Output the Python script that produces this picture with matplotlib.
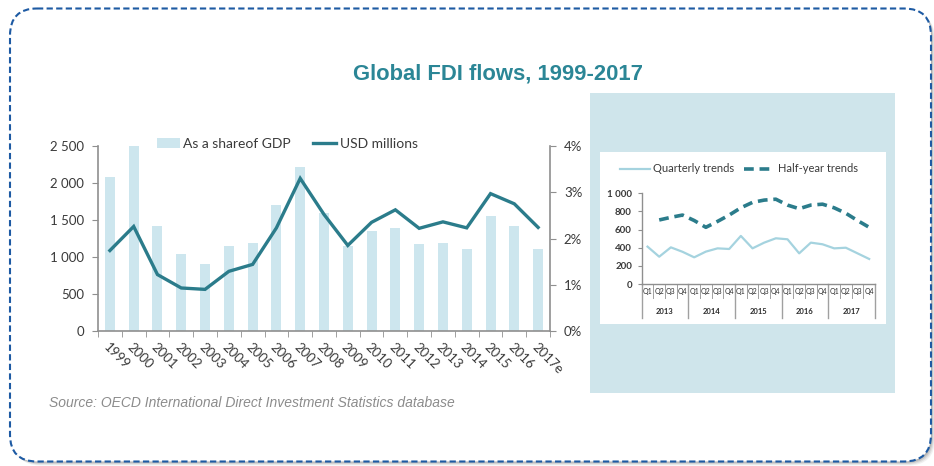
import matplotlib.pyplot as plt
from matplotlib.patches import FancyBboxPatch, Rectangle, Patch
from matplotlib.lines import Line2D
import matplotlib.transforms as mtransforms

# main chart: global FDI, 1999-2017
years = ['1999', '2000', '2001', '2002', '2003', '2004', '2005', '2006', '2007',
         '2008', '2009', '2010', '2011', '2012', '2013', '2014', '2015', '2016', '2017e']
share_gdp = [2080, 2500, 1420, 1045, 900, 1150, 1190, 1700, 2220, 1595,
             1150, 1355, 1390, 1170, 1195, 1105, 1555, 1415, 1110]
usd_millions = [1.74, 2.26, 1.22, 0.93, 0.90, 1.29, 1.44, 2.23, 3.30, 2.52,
                1.85, 2.35, 2.62, 2.22, 2.36, 2.23, 2.97, 2.75, 2.24]
left_ticks = [0, 500, 1000, 1500, 2000, 2500]
left_labels = ['0', '500', '1 000', '1 500', '2 000', '2 500']
right_ticks = [0, 1, 2, 3, 4]
right_labels = ['0%', '1%', '2%', '3%', '4%']

# inset: quarterly vs half-year trends, 2013-2017
quarters = ['Q1', 'Q2', 'Q3', 'Q4']
inset_years = ['2013', '2014', '2015', '2016', '2017']
quarterly = [412, 301, 404, 355, 294, 357, 393, 386, 530, 393,
             456, 504, 493, 338, 456, 438, 393, 400, 338, 276]
half_year = [None, 706, 735, 760, 700, 625, 690, 760, 840, 900,
             925, 935, 870, 830, 870, 880, 840, 780, 700, 625]
inset_ticks = [0, 200, 400, 600, 800, 1000]
inset_labels = ['0', '200', '400', '600', '800', '1 000']

bar_color = '#cde6ee'
line_color = '#2b7c8b'
axis_color = '#8f8f8f'
text_color = '#3a3a3a'
panel_color = '#cfe5eb'

W, H = 934, 466
fig = plt.figure(figsize=(W / 100, H / 100), dpi=100)
fig.patch.set_facecolor('white')


def fbox(x0, y0, x1, y1):
    # figure-fraction rectangle from pixel edges (y measured from the top)
    return [x0 / W, (H - y1) / H, (x1 - x0) / W, (y1 - y0) / H]


# background layer: card with dashed rounded border, inset panel
bg = fig.add_axes([0, 0, 1, 1])
bg.set_xlim(0, W)
bg.set_ylim(H, 0)
bg.axis('off')
bg.set_zorder(-5)

bx0, by0, bx1, by1, rad = 10, 8.5, 931, 461.5, 27
for off, alpha in [(4, 0.10), (3, 0.15), (2, 0.22), (1, 0.30)]:
    bg.add_patch(FancyBboxPatch((bx0 + off, by0 + off), bx1 - bx0, by1 - by0,
                                boxstyle=f'round,pad=0,rounding_size={rad}',
                                fc='#7a7a7a', ec='none', alpha=alpha))
bg.add_patch(FancyBboxPatch((bx0, by0), bx1 - bx0, by1 - by0,
                            boxstyle=f'round,pad=0,rounding_size={rad}',
                            fc='white', ec='none'))
bg.add_patch(FancyBboxPatch((bx0, by0), bx1 - bx0, by1 - by0,
                            boxstyle=f'round,pad=0,rounding_size={rad}',
                            fc='none', ec='#1d5aa3', lw=1.5,
                            linestyle=(0, (3, 1.6))))

bg.add_patch(Rectangle((590, 93), 305, 300, fc=panel_color, ec='none'))
bg.add_patch(Rectangle((600, 152), 286, 172, fc='white', ec='none'))

fig.text(498 / W, (H - 74) / H, 'Global FDI flows, 1999-2017', ha='center', va='center',
         fontsize=15.8, fontweight='bold', color='#2b8696', family='Liberation Sans')
fig.text(49 / W, (H - 403) / H, 'Source: OECD International Direct Investment Statistics database',
         ha='left', va='center', fontsize=10, style='italic', color='#8c8c8c',
         family='Liberation Sans')

# ---- main chart ----
ax = fig.add_axes(fbox(98, 146, 550, 331))
ax.patch.set_alpha(0)
x = list(range(len(years)))
ax.bar(x, share_gdp, width=0.42, color=bar_color, zorder=1)
ax.set_xlim(-0.5, len(years) - 0.5)
ax.set_ylim(0, 2500)
ax.set_yticks(left_ticks)
ax.set_yticklabels(left_labels)
ax.set_xticks(x)
ax.set_xticklabels(years, rotation=-45, ha='left', va='top', rotation_mode='anchor')
ax.set_xticks([i - 0.5 for i in range(len(years) + 1)], minor=True)
ax.tick_params(axis='x', which='major', length=0, pad=7)
ax.tick_params(axis='x', which='minor', length=4, color=axis_color, direction='out')
ax.tick_params(axis='y', length=4, color=axis_color, pad=6)
for lbl in ax.get_xticklabels() + ax.get_yticklabels():
    lbl.set_fontsize(9.5)
    lbl.set_color(text_color)
    lbl.set_family('Lato')
for s in ['top', 'right']:
    ax.spines[s].set_visible(False)
for s in ['left', 'bottom']:
    ax.spines[s].set_color(axis_color)
    ax.spines[s].set_linewidth(1.2)

ax2 = ax.twinx()
ax2.plot(x, usd_millions, color=line_color, lw=2.4, solid_joinstyle='miter', zorder=3)
ax2.set_ylim(0, 4)
ax2.set_yticks(right_ticks)
ax2.set_yticklabels(right_labels)
ax2.tick_params(axis='y', length=4, color=axis_color, pad=6)
for lbl in ax2.get_yticklabels():
    lbl.set_fontsize(9.5)
    lbl.set_color(text_color)
    lbl.set_family('Lato')
for s in ['top', 'left', 'bottom']:
    ax2.spines[s].set_visible(False)
ax2.spines['right'].set_color(axis_color)
ax2.spines['right'].set_linewidth(1.2)

handles = [Patch(facecolor=bar_color, edgecolor='none'),
           Line2D([0], [0], color=line_color, lw=2.4)]
fig.legend(handles, ['As a shareof GDP', 'USD millions'], ncol=2, frameon=False,
           loc='center left', bbox_to_anchor=(157 / W, (H - 144) / H),
           prop={'family': 'Lato', 'size': 10}, labelcolor=text_color,
           handlelength=1.65, handleheight=0.7, handletextpad=0.25,
           columnspacing=1.6, borderpad=0, borderaxespad=0)

# ---- inset chart ----
ax3 = fig.add_axes(fbox(641.7, 193.3, 875, 284))
ax3.patch.set_alpha(0)
q = list(range(len(quarterly)))
ax3.plot(q, quarterly, color='#a5d3df', lw=1.6)
hq = [i for i, v in zip(q, half_year) if v is not None]
hv = [v for v in half_year if v is not None]
ax3.plot(hq, hv, color=line_color, lw=2.6, linestyle=(0, (2.7, 1.6)))
ax3.set_xlim(-0.5, len(quarterly) - 0.5)
ax3.set_ylim(0, 1000)
ax3.set_yticks(inset_ticks)
ax3.set_yticklabels(inset_labels)
ax3.set_xticks([])
ax3.tick_params(axis='y', length=3, color=axis_color, pad=4)
for lbl in ax3.get_yticklabels():
    lbl.set_fontsize(7)
    lbl.set_fontweight('bold')
    lbl.set_color(text_color)
    lbl.set_family('Lato')
for s in ['top', 'right']:
    ax3.spines[s].set_visible(False)
for s in ['left', 'bottom']:
    ax3.spines[s].set_color(axis_color)
    ax3.spines[s].set_linewidth(1.0)

# two-level category axis: quarters, then years
trans = mtransforms.blended_transform_factory(ax3.transData, ax3.transAxes)
for i in range(len(quarterly) + 1):
    bottom = -0.375 if i % 4 == 0 else -0.15
    ax3.add_line(Line2D([i - 0.5, i - 0.5], [0, bottom], transform=trans,
                        color='#a0a0a0', lw=1.0 if i % 4 == 0 else 0.7, clip_on=False))
for i in range(len(quarterly)):
    ax3.text(i, -0.085, quarters[i % 4], transform=trans, ha='center', va='center',
             fontsize=5, color='#2a2a2a', family='Lato')
for k, yr in enumerate(inset_years):
    ax3.text(4 * k + 1.5, -0.3, yr, transform=trans, ha='center', va='center',
             fontsize=5.5, fontweight='bold', color='#2a2a2a', family='Lato')

ihandles = [Line2D([0], [0], color='#a5d3df', lw=1.6),
            Line2D([0], [0], color=line_color, lw=2.6, linestyle=(0, (2.7, 1.6)))]
fig.legend(ihandles, ['Quarterly trends', 'Half-year trends'], ncol=2, frameon=False,
           loc='center left', bbox_to_anchor=(620 / W, (H - 169) / H),
           prop={'family': 'Lato', 'size': 8}, labelcolor=text_color,
           handlelength=2.7, handletextpad=0.3, columnspacing=0.9,
           borderpad=0, borderaxespad=0)

fig.savefig('out.png', dpi=100, facecolor='white')
